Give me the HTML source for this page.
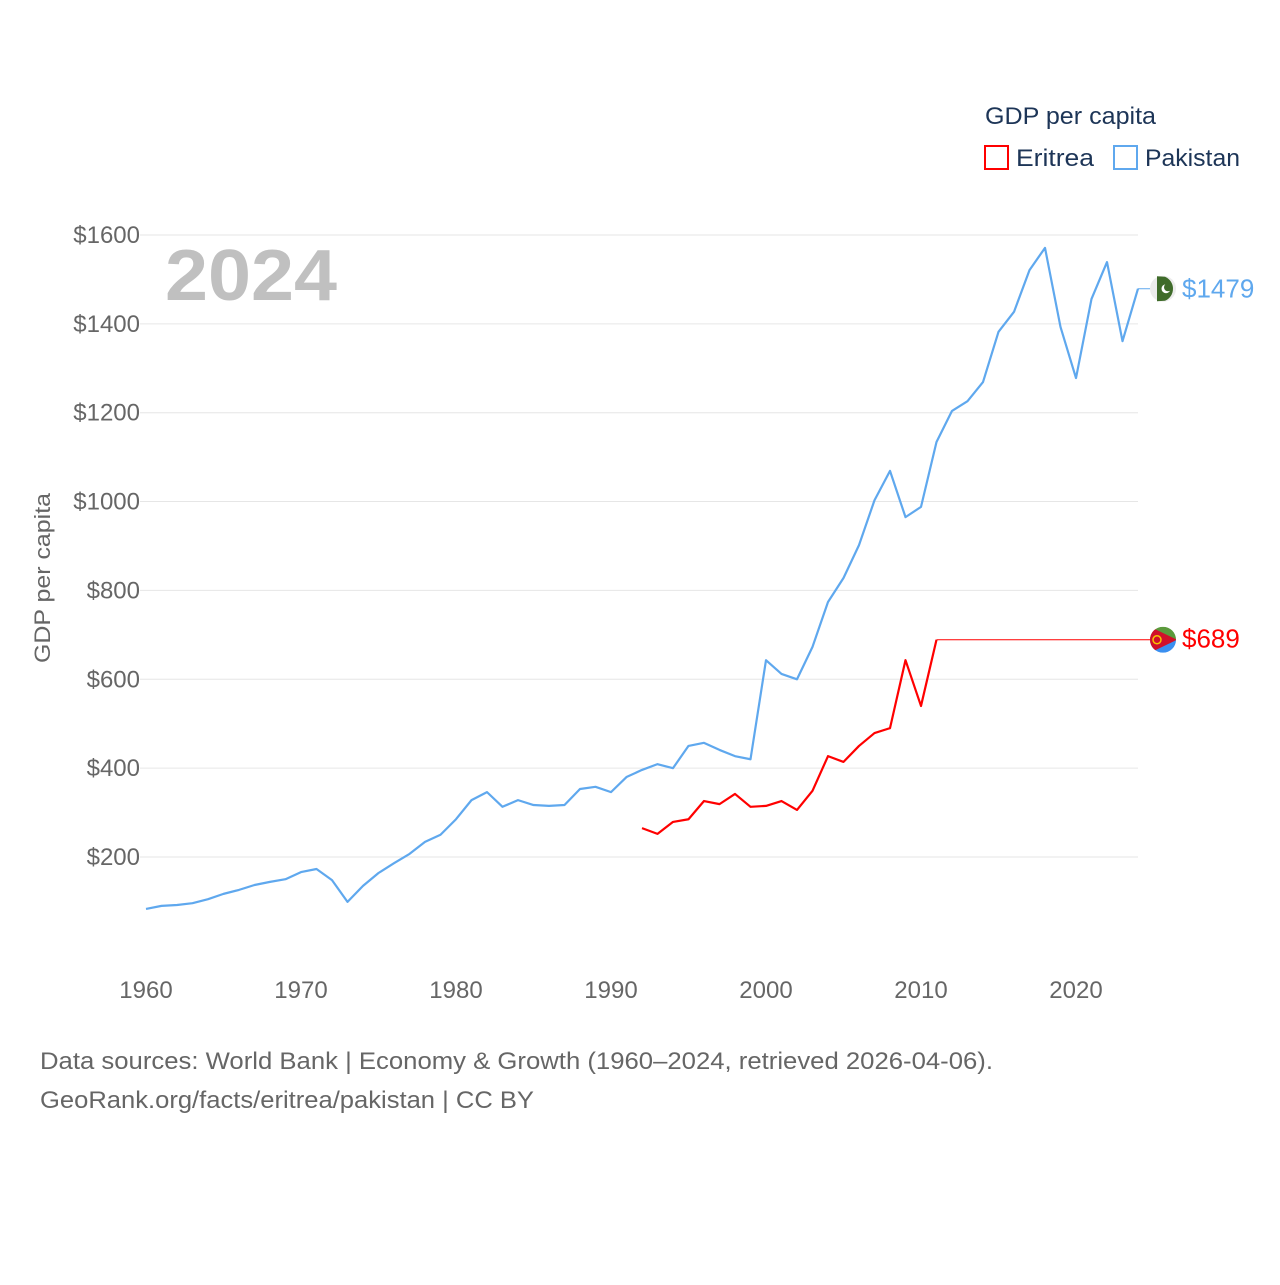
<!DOCTYPE html>
<html><head><meta charset="utf-8">
<style>
html,body{margin:0;padding:0;background:#fff;}
body{width:1280px;height:1280px;overflow:hidden;font-family:"Liberation Sans",sans-serif;}
</style></head>
<body>
<svg id="chart" width="1280" height="1280" xmlns="http://www.w3.org/2000/svg" font-family="Liberation Sans, sans-serif">
<g id="grid"></g>
<g id="yaxis"></g>
<g id="xaxis"></g>
<text x="165" y="300" font-size="72" font-weight="bold" fill="#c0c0c0" textLength="172" lengthAdjust="spacingAndGlyphs">2024</text>
<text transform="translate(50,578) rotate(-90)" text-anchor="middle" font-size="22" fill="#666" textLength="170" lengthAdjust="spacingAndGlyphs">GDP per capita</text>
<g id="series"></g>
<g>
<text x="985" y="124" font-size="24" fill="#1d3557" textLength="171" lengthAdjust="spacingAndGlyphs">GDP per capita</text>
<g><rect x="985" y="146" width="23" height="23" fill="none" stroke="#ff0000" stroke-width="2"/><text x="1016" y="166" font-size="24" fill="#1d3557" textLength="78" lengthAdjust="spacingAndGlyphs">Eritrea</text></g>
<g><rect x="1114" y="146" width="23" height="23" fill="none" stroke="#5fa8ee" stroke-width="2"/><text x="1145" y="166" font-size="24" fill="#1d3557" textLength="95" lengthAdjust="spacingAndGlyphs">Pakistan</text></g>
</g>
<g id="labels"></g>
<text x="40" y="1069" font-size="24" fill="#666" textLength="953" lengthAdjust="spacingAndGlyphs">Data sources: World Bank | Economy &amp; Growth (1960–2024, retrieved 2026-04-06).</text>
<text x="40" y="1108" font-size="24" fill="#666" textLength="494" lengthAdjust="spacingAndGlyphs">GeoRank.org/facts/eritrea/pakistan | CC BY</text>
</svg>
<script>
const yTicks=[200,400,600,800,1000,1200,1400,1600];
const xTicks=[1960,1970,1980,1990,2000,2010,2020];
const pakYears=[];for(let y=1960;y<=2024;y++)pakYears.push(y);
const pakistan=[83,90,92,96,105,117,126,137,144,150,166,173,148,99,135,164,186,207,234,250,285,328,346,313,328,317,315,317,353,358,346,380,396,409,400,450,457,441,427,420,643,612,600,673,774,828,902,1003,1069,965,988,1134,1204,1226,1269,1382,1427,1521,1571,1393,1278,1456,1539,1361,1479];
const eriYears=[];for(let y=1992;y<=2011;y++)eriYears.push(y);
const eritrea=[265,252,279,285,326,319,342,313,315,326,306,349,427,414,450,479,490,643,540,689];
const eriLast=689, pakLast=1479;
const NS="http://www.w3.org/2000/svg";
const X=yr=>146+(yr-1960)*15.5;
const Y=v=>857-(v-200)*0.4443;
function mk(tag,attrs,parent){const e=document.createElementNS(NS,tag);for(const k in attrs)e.setAttribute(k,attrs[k]);parent.appendChild(e);return e;}
const grid=document.getElementById('grid'),ya=document.getElementById('yaxis'),xa=document.getElementById('xaxis'),ser=document.getElementById('series'),lab=document.getElementById('labels');
yTicks.forEach(t=>{
 const l=mk('line',{x1:140,x2:1138,y1:Y(t),y2:Y(t),stroke:'#e6e6e6','stroke-width':1},grid);
 
 
 const tx=mk('text',{x:140,y:Y(t)+8,'text-anchor':'end','font-size':24,fill:'#666'},ya);tx.textContent='$'+t;
 
 
});
xTicks.forEach(t=>{
 const tx=mk('text',{x:X(t),y:998,'text-anchor':'middle','font-size':24,fill:'#666'},xa);tx.textContent=t;
 
 
});
const pp=mk('polyline',{points:pakYears.map((y,i)=>X(y)+','+Y(pakistan[i])).join(' '),fill:'none',stroke:'#5fa8ee','stroke-width':2.2,'stroke-linejoin':'round'},ser);


const ep=mk('polyline',{points:eriYears.map((y,i)=>X(y)+','+Y(eritrea[i])).join(' '),fill:'none',stroke:'#ff0000','stroke-width':2.2,'stroke-linejoin':'round'},ser);


const ef=mk('line',{x1:X(2011),x2:1150,y1:Y(eriLast),y2:Y(eriLast),stroke:'#ff0000','stroke-width':1},ser);


const pf=mk('line',{x1:X(2024),x2:1150,y1:Y(pakLast),y2:Y(pakLast),stroke:'#5fa8ee','stroke-width':1},ser);


const py=Y(pakLast);
const pfg=mk('g',{},lab);


mk('circle',{cx:1163,cy:py,r:13,fill:'#ececec'},pfg);
mk('path',{d:`M1157 ${py-12.5} L1165 ${py-12} A13 13 0 0 1 1165 ${py+12} L1157 ${py+12.5} Z`,fill:'#3f6b2a'},pfg);
mk('circle',{cx:1166,cy:py,r:4.5,fill:'#fff'},pfg);
mk('circle',{cx:1168,cy:py-1.5,r:4,fill:'#3f6b2a'},pfg);
const pt=mk('text',{x:1182,y:py+9,'font-size':26,fill:'#5fa8ee'},lab);pt.textContent='$'+pakLast;


const ey=Y(eriLast);
const efg=mk('g',{},lab);


mk('clipPath',{id:'ec'},efg);
mk('circle',{cx:1163,cy:ey,r:13},document.getElementById('ec'));
const eg=mk('g',{'clip-path':'url(#ec)'},efg);
mk('rect',{x:1150,y:ey-13,width:26,height:13,fill:'#5b9a3c'},eg);
mk('rect',{x:1150,y:ey,width:26,height:13,fill:'#3a8ff0'},eg);
mk('path',{d:`M1150 ${ey-13} L1177 ${ey} L1150 ${ey+13} Z`,fill:'#d0102a'},eg);
mk('circle',{cx:1157,cy:ey,r:4,fill:'none',stroke:'#f5c400','stroke-width':1.5},eg);
const et=mk('text',{x:1182,y:ey+8,'font-size':26,fill:'#ff0000'},lab);et.textContent='$'+eriLast;


</script>
</body></html>
